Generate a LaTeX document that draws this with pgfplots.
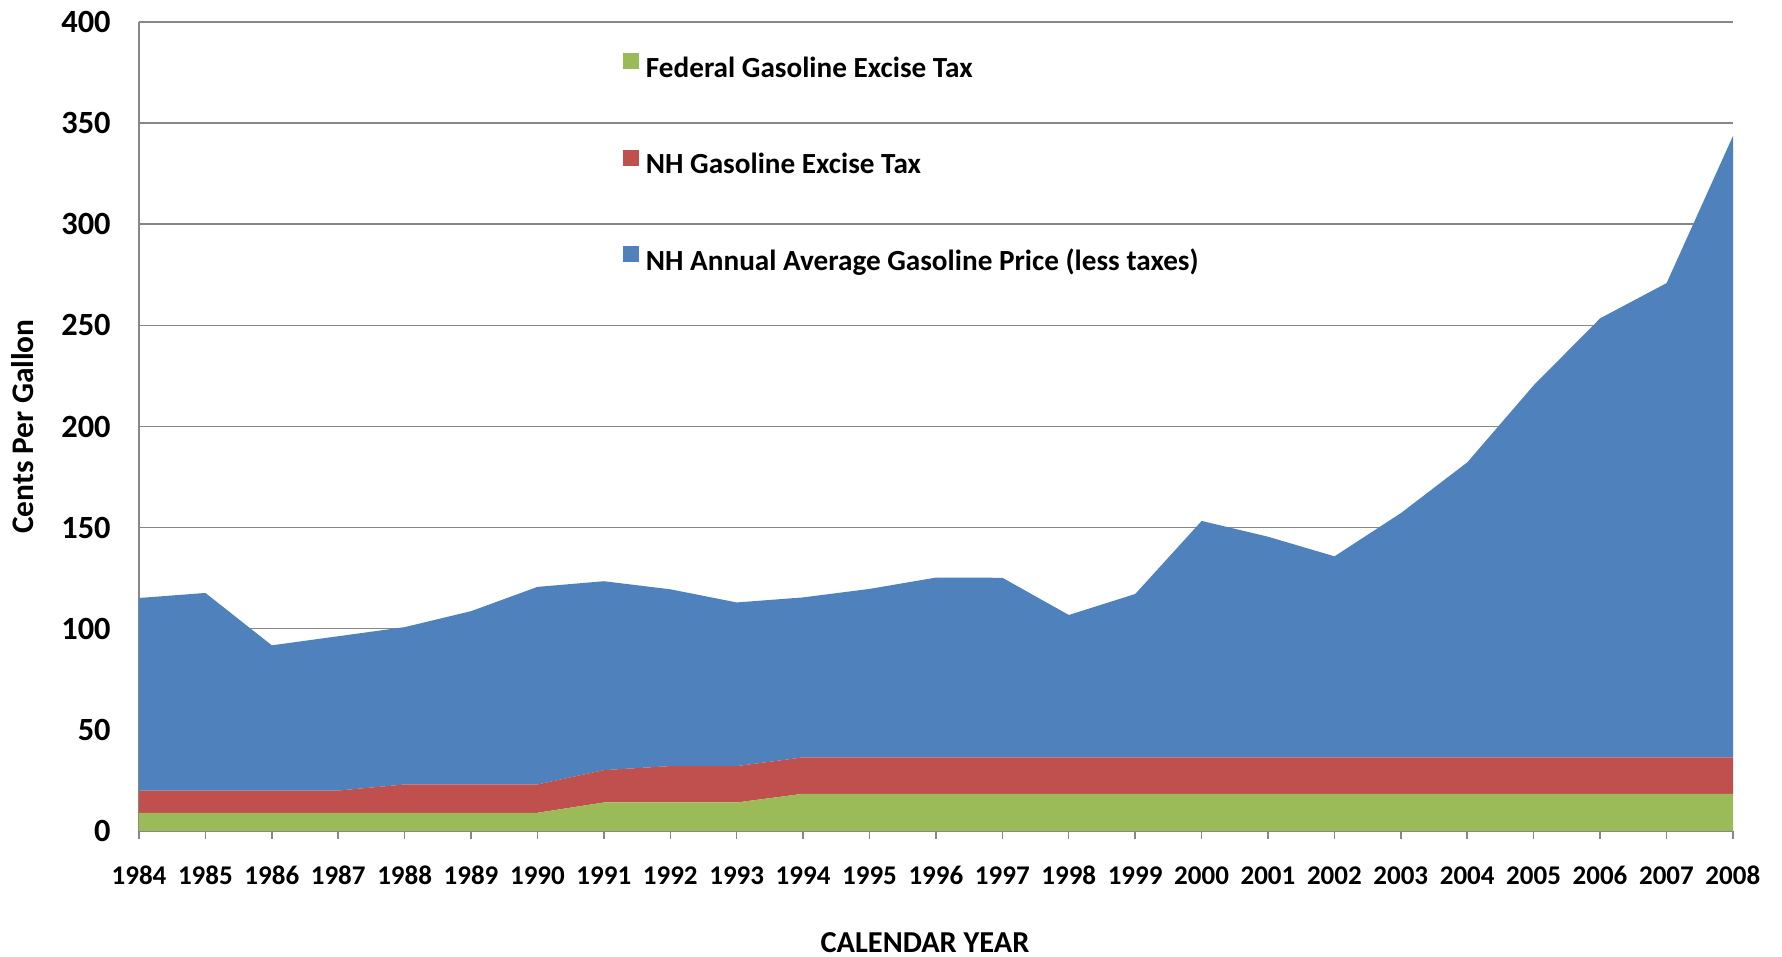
\documentclass[border=0pt]{standalone}
\usepackage{fontspec}
\setmainfont{Carlito}
\usepackage{pgfplots}
\pgfplotsset{compat=1.18}
\definecolor{fedgreen}{HTML}{9BBB59}
\definecolor{nhred}{HTML}{C0504D}
\definecolor{nhblue}{HTML}{4F81BD}
\definecolor{gridgray}{HTML}{878787}
\pgfplotsset{sqlegend/.style={legend image code/.code={\path[##1,draw=none] (0pt,0.7pt) rectangle (8pt,8.7pt); \path (11.5pt,4pt);}}}
\begin{document}
\begin{tikzpicture}
\begin{axis}[
  at={(0,0)}, anchor=south west,
  scale only axis, width=797pt, height=404.5pt,
  xmin=1984, xmax=2008, ymin=0, ymax=400,
  xtick={1984,...,2008}, ytick={0,50,...,400},
  axis x line=bottom, axis y line=left,
  axis line style={draw=gridgray, line width=0.75pt, -},
  ymajorgrids, grid style={draw=gridgray, line width=0.75pt},
  x tick style={draw=gridgray, line width=0.75pt},
  y tick style={draw=none},
  tick align=outside, major tick length=4pt,
  stack plots=y,
  /pgf/number format/assume math mode=true,
  /pgf/number format/1000 sep={},
  xticklabel style={font=\bfseries\fontsize{13.5}{16}\selectfont, anchor=center, yshift=-18.25pt, inner sep=0pt},
  yticklabel style={font=\bfseries\fontsize{16.2}{19}\selectfont, anchor=east, inner sep=0pt, xshift=-10pt},
  ylabel={Cents Per Gallon},
  ylabel style={at={(axis description cs:-0.07277,0.5)}, anchor=center, font=\bfseries\fontsize{15.7}{18}\selectfont},
  xlabel={CALENDAR YEAR},
  xlabel style={at={(axis description cs:0.4931,-0.1375)}, anchor=center, font=\bfseries\fontsize{15.2}{18}\selectfont},
  legend style={at={(axis description cs:0.3036,0.8236)}, anchor=west, draw=none, fill=none,
    inner sep=0pt, outer sep=0pt, row sep=33pt,
    font=\bfseries\fontsize{14.6}{17}\selectfont,
    nodes={inner sep=0pt, text height=10pt, text depth=3pt}},
  legend cell align=left,
]
\addplot[fill=fedgreen, draw=none, sqlegend] coordinates {
(1984,9) (1985,9) (1986,9) (1987,9) (1988,9) (1989,9) (1990,9)
(1991,14.1) (1992,14.1) (1993,14.1)
(1994,18.4) (1995,18.4) (1996,18.4) (1997,18.4) (1998,18.4) (1999,18.4) (2000,18.4)
(2001,18.4) (2002,18.4) (2003,18.4) (2004,18.4) (2005,18.4) (2006,18.4) (2007,18.4) (2008,18.4)
} \closedcycle;
\addlegendentry{Federal Gasoline Excise Tax}
\addplot[fill=nhred, draw=none, sqlegend] coordinates {
(1984,11) (1985,11) (1986,11) (1987,11) (1988,14) (1989,14) (1990,14)
(1991,16) (1992,18) (1993,18)
(1994,18) (1995,18) (1996,18) (1997,18) (1998,18) (1999,18) (2000,18)
(2001,18) (2002,18) (2003,18) (2004,18) (2005,18) (2006,18) (2007,18) (2008,18)
} \closedcycle;
\addlegendentry{NH Gasoline Excise Tax}
\addplot[fill=nhblue, draw=none, sqlegend] coordinates {
(1984,95.2) (1985,97.7) (1986,71.8) (1987,76.3) (1988,77.8) (1989,85.7) (1990,97.7)
(1991,93.4) (1992,87.4) (1993,80.9)
(1994,79.1) (1995,83.3) (1996,88.9) (1997,88.8) (1998,70.4) (1999,80.8) (2000,116.9)
(2001,109.1) (2002,99.4) (2003,120.8) (2004,145.9) (2005,184.0) (2006,217.1) (2007,234.5) (2008,307.3)
} \closedcycle;
\addlegendentry{NH Annual Average Gasoline Price (less taxes)}
\end{axis}
\pgfresetboundingbox
\path[use as bounding box] (-69.5pt,-63pt) rectangle (821.5pt,415.5pt);
\end{tikzpicture}
\end{document}
